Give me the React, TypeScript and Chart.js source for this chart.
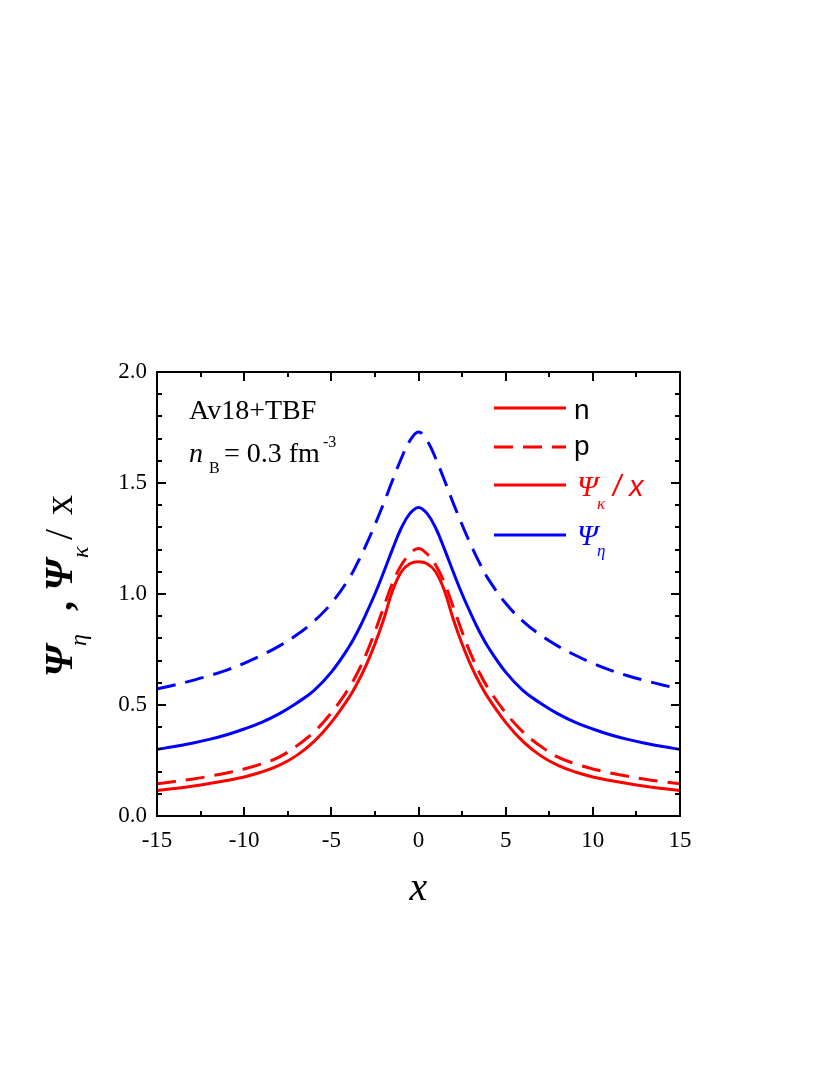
import React, { useEffect, useRef } from "react";
import { Chart, registerables } from "chart.js";

Chart.register(...registerables);

// x positions of sampled points
const xValues = [
  -15, -14, -13, -12, -11, -10, -9, -8, -7, -6, -5, -4,
  -3.5, -3, -2.5, -2, -1.5, -1, -0.5, 0, 0.5, 1, 1.5, 2, 2.5, 3, 3.5,
  4, 5, 6, 7, 8, 9, 10, 11, 12, 13, 14, 15,
];

// Psi_kappa / x, neutrons (red solid)
const psiKappaN = [
  0.115, 0.124, 0.134, 0.146, 0.16, 0.176, 0.198, 0.228, 0.272, 0.335, 0.422, 0.532,
  0.6, 0.68, 0.775, 0.885, 1.012, 1.098, 1.136, 1.145, 1.136, 1.098, 1.012, 0.885, 0.775, 0.68, 0.6,
  0.532, 0.422, 0.335, 0.272, 0.228, 0.198, 0.176, 0.16, 0.146, 0.134, 0.124, 0.115,
];

// Psi_kappa / x, protons (red dashed)
const psiKappaP = [
  0.145, 0.155, 0.166, 0.179, 0.194, 0.212, 0.235, 0.265, 0.315, 0.378, 0.465, 0.575,
  0.645, 0.73, 0.83, 0.94, 1.048, 1.128, 1.18, 1.205, 1.18, 1.128, 1.048, 0.94, 0.83, 0.73, 0.645,
  0.575, 0.465, 0.378, 0.315, 0.265, 0.235, 0.212, 0.194, 0.179, 0.166, 0.155, 0.145,
];

// Psi_eta, neutrons (blue solid)
const psiEtaN = [
  0.3, 0.313, 0.328, 0.345, 0.366, 0.392, 0.422, 0.46, 0.508, 0.565, 0.648, 0.76,
  0.83, 0.912, 1.0, 1.098, 1.2, 1.295, 1.362, 1.39, 1.362, 1.295, 1.2, 1.098, 1.0, 0.912, 0.83,
  0.76, 0.648, 0.565, 0.508, 0.46, 0.422, 0.392, 0.366, 0.345, 0.328, 0.313, 0.3,
];

// Psi_eta, protons (blue dashed)
const psiEtaP = [
  0.572, 0.59, 0.61, 0.632, 0.657, 0.688, 0.724, 0.765, 0.815, 0.877, 0.958, 1.068,
  1.14, 1.222, 1.312, 1.408, 1.51, 1.608, 1.69, 1.73, 1.69, 1.608, 1.51, 1.408, 1.312, 1.222, 1.14,
  1.068, 0.958, 0.877, 0.815, 0.765, 0.724, 0.688, 0.657, 0.632, 0.61, 0.59, 0.572,
];

const xTickLabels = ["-15", "-10", "-5", "0", "5", "10", "15"];
const yTickLabels = ["0.0", "0.5", "1.0", "1.5", "2.0"];

const RED = "#ff0000";
const BLUE = "#0000ff";
const SERIF = '"Liberation Serif", "DejaVu Serif", serif';
const SANS = '"Liberation Sans", Arial, sans-serif';

const toPoints = (ys: number[]) => xValues.map((x, i) => ({ x, y: ys[i] }));

const decorPlugin = {
  id: "decor",
  afterDraw(chart: any) {
    const ctx: CanvasRenderingContext2D = chart.ctx;
    const { left, right, top, bottom } = chart.chartArea;
    const xs = chart.scales.x;
    const ys = chart.scales.y;
    ctx.save();
    // frame
    ctx.strokeStyle = "#000";
    ctx.lineWidth = 2;
    ctx.setLineDash([]);
    ctx.strokeRect(left, top, right - left, bottom - top);
    // inward ticks
    for (let i = 0; i <= 12; i++) {
      const v = -15 + i * 2.5;
      const px = Math.round(xs.getPixelForValue(v));
      const len = i % 2 === 0 ? 9 : 5;
      ctx.beginPath();
      ctx.moveTo(px, bottom);
      ctx.lineTo(px, bottom - len);
      ctx.moveTo(px, top);
      ctx.lineTo(px, top + len);
      ctx.stroke();
    }
    for (let i = 0; i <= 20; i++) {
      const v = i / 10;
      const py = Math.round(ys.getPixelForValue(v));
      const len = i % 5 === 0 ? 9 : 5;
      ctx.beginPath();
      ctx.moveTo(left, py);
      ctx.lineTo(left + len, py);
      ctx.moveTo(right, py);
      ctx.lineTo(right - len, py);
      ctx.stroke();
    }

    ctx.textAlign = "left";
    ctx.textBaseline = "alphabetic";
    ctx.fillStyle = "#000";

    // annotation
    ctx.font = `28px ${SERIF}`;
    ctx.fillText("Av18+TBF", 189, 419);
    ctx.font = `italic 28px ${SERIF}`;
    ctx.fillText("n", 189, 462);
    ctx.font = `16px ${SERIF}`;
    ctx.fillText("B", 209, 473);
    ctx.font = `28px ${SERIF}`;
    ctx.fillText("= 0.3 fm", 224, 462);
    const w1 = ctx.measureText("= 0.3 fm").width;
    ctx.font = `16px ${SERIF}`;
    ctx.fillText("-3", 224 + w1 + 3, 447);

    // legend
    const lx0 = 494;
    const lx1 = 566;
    ctx.lineWidth = 3;
    ctx.strokeStyle = RED;
    ctx.beginPath();
    ctx.moveTo(lx0, 408);
    ctx.lineTo(lx1, 408);
    ctx.stroke();
    ctx.setLineDash([19, 10]);
    ctx.beginPath();
    ctx.moveTo(lx0, 447);
    ctx.lineTo(lx1, 447);
    ctx.stroke();
    ctx.setLineDash([]);
    ctx.beginPath();
    ctx.moveTo(lx0, 485);
    ctx.lineTo(lx1, 485);
    ctx.stroke();
    ctx.strokeStyle = BLUE;
    ctx.beginPath();
    ctx.moveTo(lx0, 535);
    ctx.lineTo(lx1, 535);
    ctx.stroke();

    ctx.fillStyle = "#000";
    ctx.font = `28px ${SANS}`;
    ctx.fillText("n", 574, 419);
    ctx.fillText("p", 574, 455);

    ctx.fillStyle = RED;
    ctx.font = `italic 30px ${SERIF}`;
    ctx.fillText("Ψ", 577, 496);
    ctx.font = `italic 17px ${SERIF}`;
    ctx.fillText("κ", 597, 509);
    ctx.font = `italic 29px ${SANS}`;
    ctx.fillText("/ x", 613, 496);

    ctx.fillStyle = BLUE;
    ctx.font = `italic 30px ${SERIF}`;
    ctx.fillText("Ψ", 577, 545);
    ctx.font = `italic 17px ${SERIF}`;
    ctx.fillText("η", 597, 556);

    // x-axis title
    ctx.fillStyle = "#000";
    ctx.font = `italic 40px ${SERIF}`;
    ctx.textAlign = "center";
    ctx.fillText("x", xs.getPixelForValue(0), 900);

    // y-axis title (rotated, reading bottom to top)
    ctx.translate(72, 677);
    ctx.rotate(-Math.PI / 2);
    ctx.textAlign = "left";
    ctx.font = `italic bold 40px ${SERIF}`;
    ctx.fillText("Ψ", 0, 0);
    ctx.font = `italic 24px ${SERIF}`;
    ctx.fillText("η", 31, 14);
    ctx.font = `bold 40px ${SERIF}`;
    ctx.fillText(",", 66, 0);
    ctx.font = `italic bold 40px ${SERIF}`;
    ctx.fillText("Ψ", 86, 0);
    ctx.font = `italic 24px ${SERIF}`;
    ctx.fillText("κ", 119, 16);
    ctx.font = `40px ${SERIF}`;
    ctx.fillText("/", 137, 0);
    ctx.fillText("x", 162, 0);

    ctx.restore();
  },
};

export default function App() {
  const canvasRef = useRef<HTMLCanvasElement | null>(null);

  useEffect(() => {
    const canvas = canvasRef.current;
    if (!canvas) return;
    const line = (data: number[], color: string, dashed: boolean) => ({
      data: toPoints(data),
      borderColor: color,
      backgroundColor: color,
      borderWidth: 3,
      borderDash: dashed ? [19, 10] : [],
      pointRadius: 0,
      fill: false,
      tension: 0.4,
    });
    const chart = new Chart(canvas, {
      type: "line",
      data: {
        datasets: [
          { label: "n Ψκ/x", ...line(psiKappaN, RED, false) },
          { label: "p Ψκ/x", ...line(psiKappaP, RED, true) },
          { label: "n Ψη", ...line(psiEtaN, BLUE, false) },
          { label: "p Ψη", ...line(psiEtaP, BLUE, true) },
        ],
      },
      options: {
        animation: false,
        responsive: false,
        devicePixelRatio: 1,
        layout: { padding: { left: 0, top: 372, right: 150, bottom: 149 } },
        plugins: { legend: { display: false }, tooltip: { enabled: false } },
        scales: {
          x: {
            type: "linear",
            min: -15,
            max: 15,
            grid: { display: false, drawTicks: false },
            border: { display: false },
            afterFit: (s: any) => {
              s.height = 110;
            },
            afterBuildTicks: (s: any) => {
              s.ticks = xTickLabels.map((t) => ({ value: Number(t) }));
            },
            ticks: {
              color: "#000",
              padding: 11,
              maxRotation: 0,
              font: { family: SERIF, size: 23 },
              callback: (v: any) => {
                const idx = xTickLabels.findIndex((t) => Number(t) === Number(v));
                return idx >= 0 ? xTickLabels[idx] : "";
              },
            },
          },
          y: {
            type: "linear",
            min: 0,
            max: 2,
            grid: { display: false, drawTicks: false },
            border: { display: false },
            afterFit: (s: any) => {
              s.width = 157;
            },
            afterBuildTicks: (s: any) => {
              s.ticks = yTickLabels.map((t) => ({ value: Number(t) }));
            },
            ticks: {
              color: "#000",
              padding: 10,
              font: { family: SERIF, size: 23 },
              callback: (v: any) => {
                const idx = yTickLabels.findIndex((t) => Number(t) === Number(v));
                return idx >= 0 ? yTickLabels[idx] : "";
              },
            },
          },
        },
      },
      plugins: [decorPlugin],
    });
    return () => chart.destroy();
  }, []);

  return (
    <div style={{ position: "absolute", left: 0, top: 0, width: 830, height: 1075, background: "#fff" }}>
      <canvas ref={canvasRef} width={830} height={1075} style={{ display: "block" }} />
    </div>
  );
}
